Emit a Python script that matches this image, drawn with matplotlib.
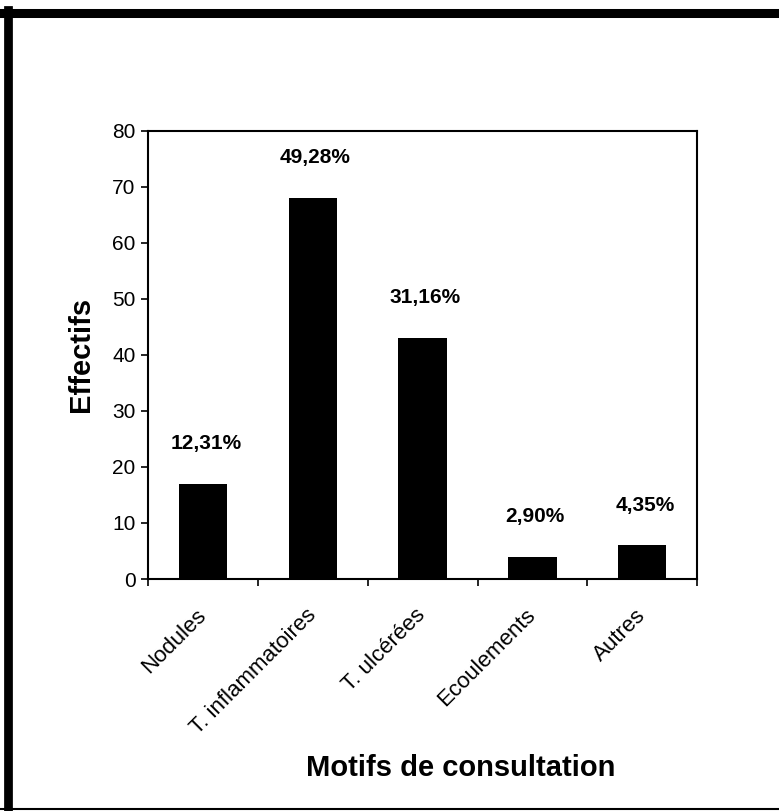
import matplotlib
matplotlib.use("Agg")
import matplotlib.pyplot as plt
from matplotlib.lines import Line2D
import numpy as np

plt.rcParams["font.family"] = ["Liberation Sans", "DejaVu Sans"]

# données
motifs = ["Nodules", "T. inflammatoires", "T. ulcérées", "Ecoulements", "Autres"]
effectifs = [17, 68, 43, 4, 6]
pourcents = ["12,31%", "49,28%", "31,16%", "2,90%", "4,35%"]

fig = plt.figure(figsize=(7.79, 8.11), dpi=100)
ax = fig.add_axes([0.19, 0.286, 0.705, 0.553])

x = np.arange(len(motifs))
ax.bar(x, effectifs, width=0.44, color="black")

for xi, v, p in zip(x, effectifs, pourcents):
    ax.annotate(p, (xi, v), xytext=(2, 22), textcoords="offset points",
                ha="center", va="bottom", fontsize=15, fontweight="bold")

ax.set_xlim(-0.5, len(motifs) - 0.5)
ax.set_ylim(0, 80)
ax.set_yticks(range(0, 81, 10))
ax.tick_params(axis="y", labelsize=15, length=5, width=1.2, direction="out", pad=4)

# graduations entre les catégories, étiquettes au centre
ax.set_xticks(np.arange(-0.5, len(motifs), 1.0))
ax.set_xticklabels([])
ax.tick_params(axis="x", which="major", length=5, width=1.2, direction="out")
ax.set_xticks(x, minor=True)
ax.set_xticklabels(motifs, minor=True, rotation=45, ha="right", va="center",
                   rotation_mode="anchor", fontsize=16)
ax.tick_params(axis="x", which="minor", length=0, pad=24)

for s in ax.spines.values():
    s.set_linewidth(1.5)

fig.text(0.1036, 0.5635, "Effectifs", rotation=90, ha="center", va="center",
         fontsize=21, fontweight="bold")
fig.text(0.592, 0.053, "Motifs de consultation", ha="center", va="center",
         fontsize=21, fontweight="bold")

# cadre du scan
fig.add_artist(Line2D([0.005, 1.0], [0.9834, 0.9834], transform=fig.transFigure,
                      color="black", lw=6.5))
fig.add_artist(Line2D([0.0107, 0.0107], [0.0, 0.988], transform=fig.transFigure,
                      color="black", lw=6.3))
fig.add_artist(Line2D([0.0, 1.0], [0.002, 0.002], transform=fig.transFigure,
                      color="black", lw=1.5))

fig.savefig("out.png", dpi=100)
